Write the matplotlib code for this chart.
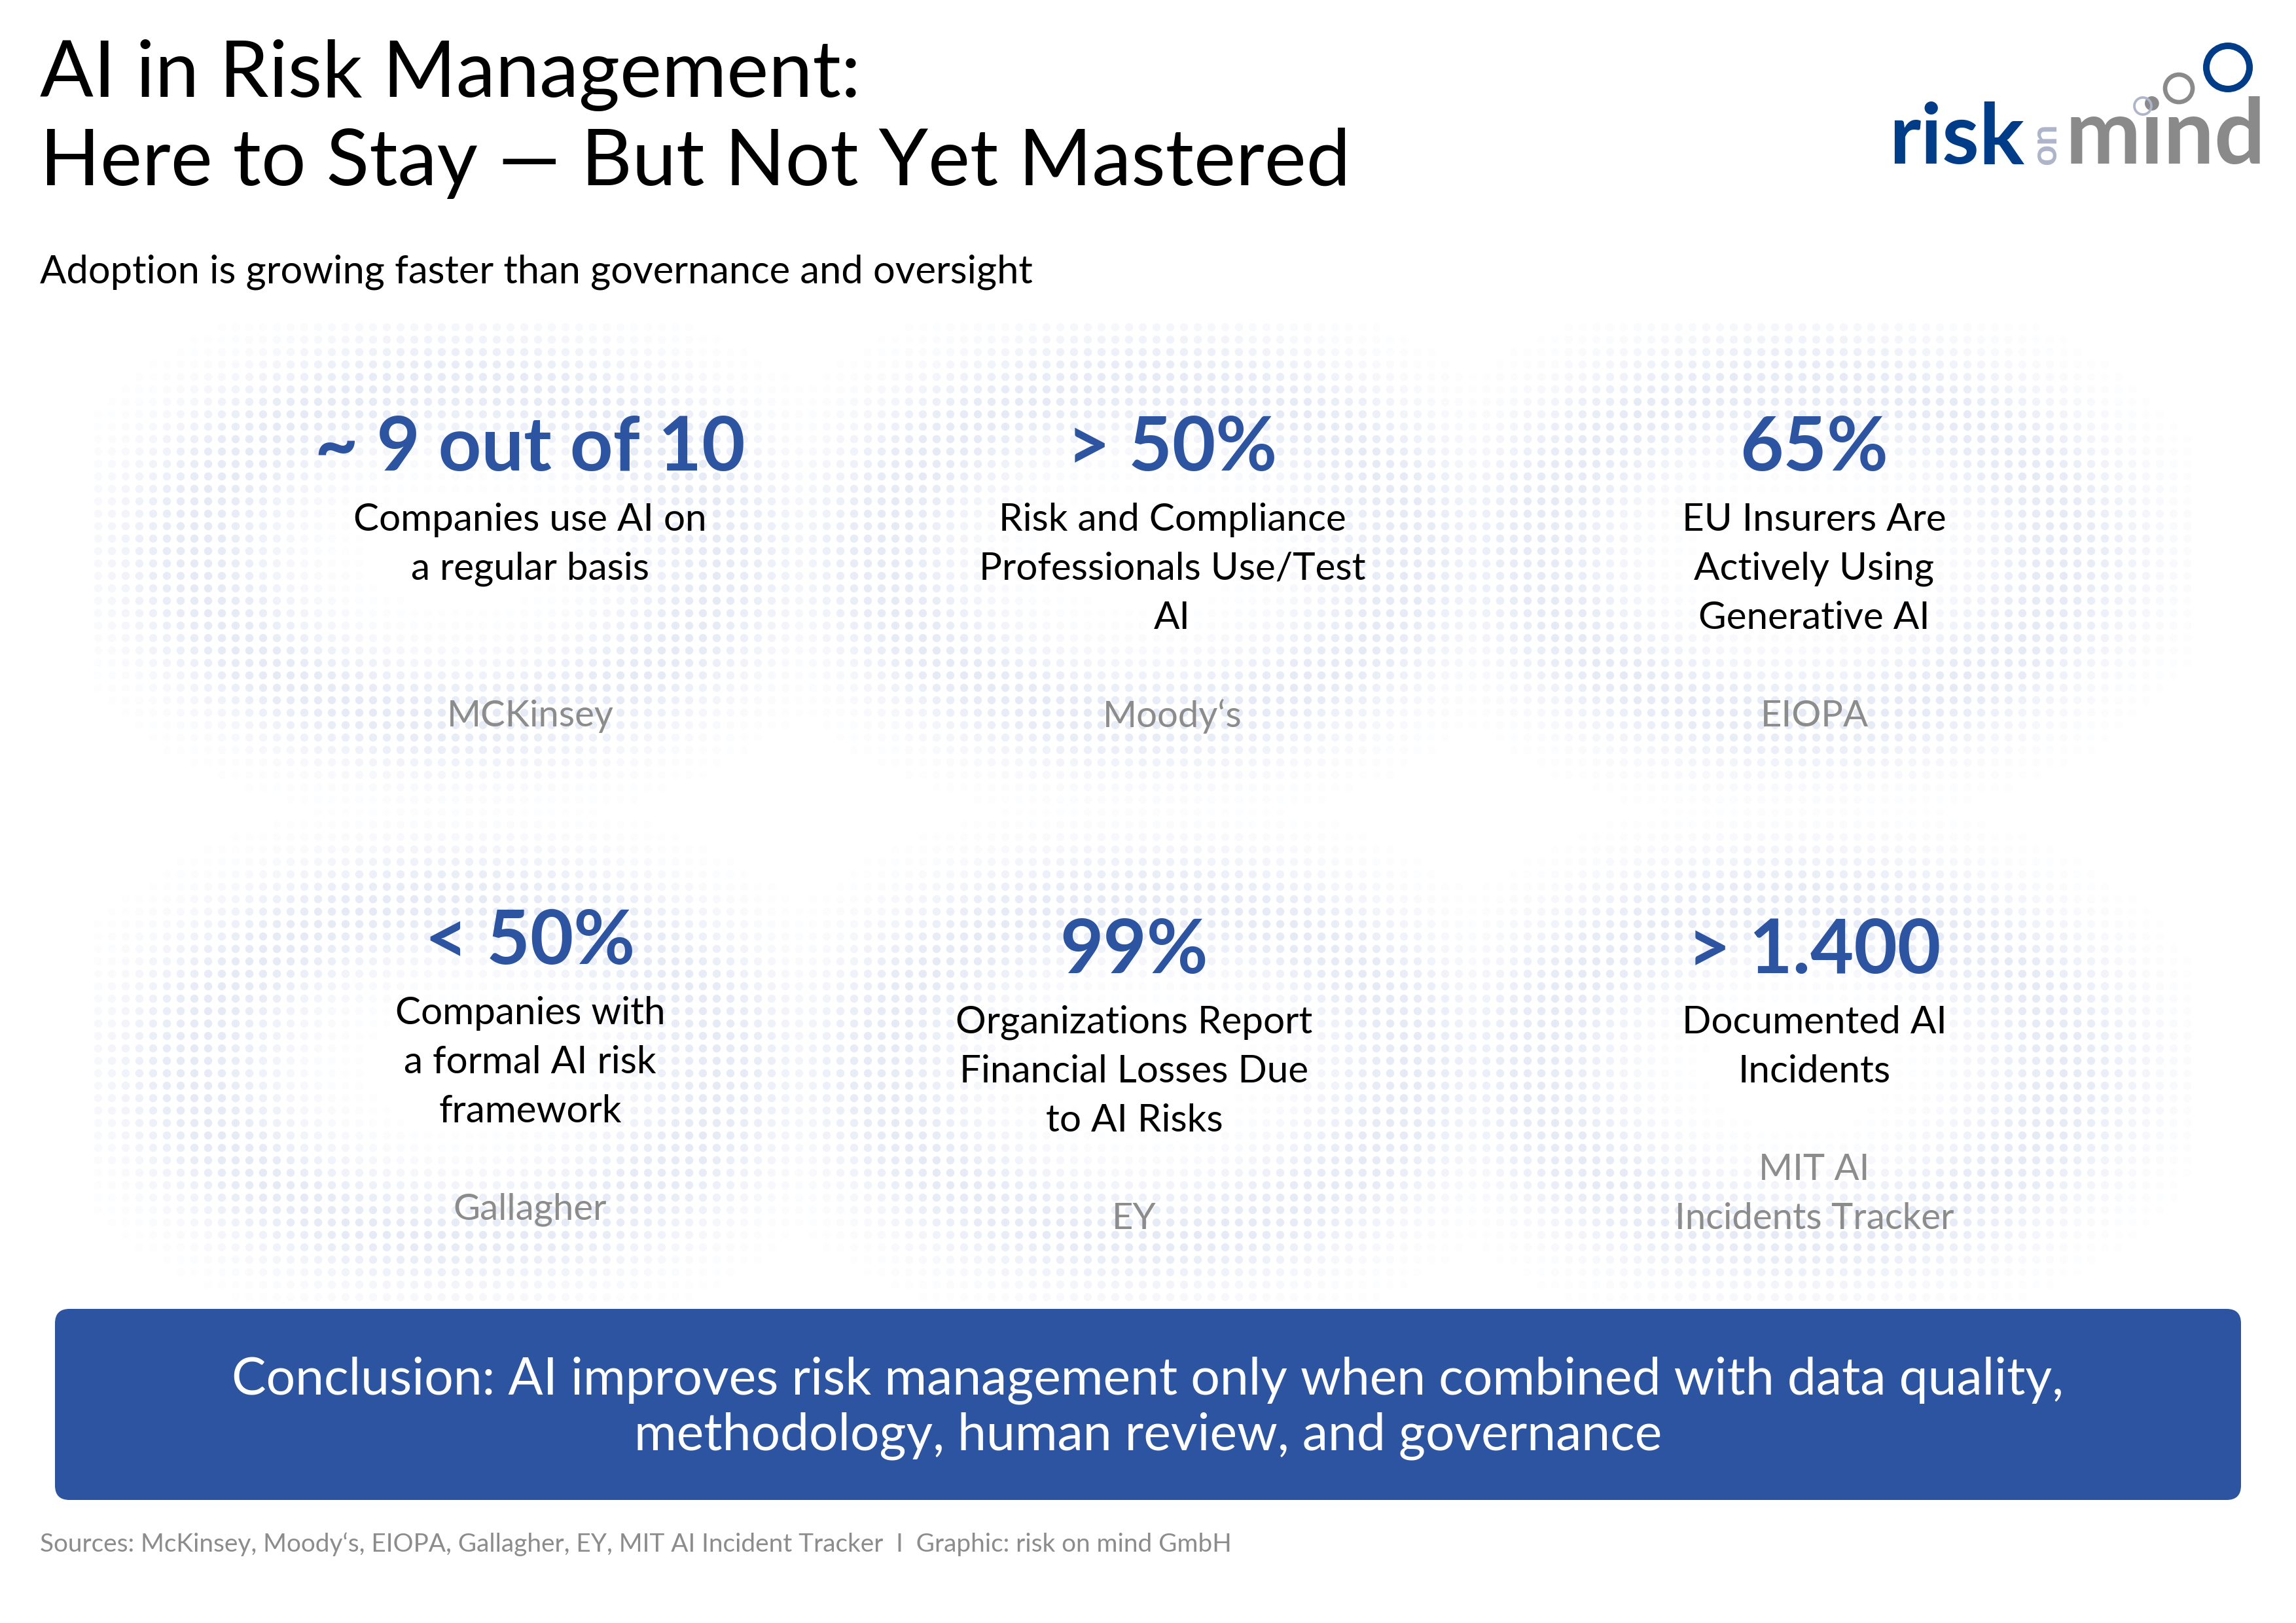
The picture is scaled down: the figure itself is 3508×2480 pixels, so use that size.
import numpy as np
import matplotlib as mpl
mpl.use("Agg")
import matplotlib.pyplot as plt
from matplotlib.patches import FancyBboxPatch, Circle

# =============================================================================
# 0) Content
# =============================================================================
TITLE_1 = "AI in Risk Management:"
TITLE_2 = "Here to Stay \u2014 But Not Yet Mastered"
SUBTITLE = "Adoption is growing faster than governance and oversight"

headline_values = ["~ 9 out of 10", "> 50%", "65%", "< 50%", "99%", "> 1.400"]
descriptions = [
    ["Companies use AI on", "a regular basis"],
    ["Risk and Compliance", "Professionals Use/Test", "AI"],
    ["EU Insurers Are", "Actively Using", "Generative AI"],
    ["Companies with", "a formal AI risk", "framework"],
    ["Organizations Report", "Financial Losses Due", "to AI Risks"],
    ["Documented AI", "Incidents"],
]
sources = [["MCKinsey"], ["Moody\u2018s"], ["EIOPA"], ["Gallagher"], ["EY"],
           ["MIT AI", "Incidents Tracker"]]

CONCLUSION = ["Conclusion: AI improves risk management only when combined with data quality,",
              "methodology, human review, and governance"]
FOOTER = ("Sources: McKinsey, Moody\u2018s, EIOPA, Gallagher, EY, MIT AI Incident Tracker  I  "
          "Graphic: risk on mind GmbH")

# =============================================================================
# 1) Style
# =============================================================================
mpl.rcParams['font.family'] = ['Lato', 'DejaVu Sans']
W, H = 3508, 2480
DPI = 300

BLUE = "#2D54A0"
GREY = "#8C8C8C"
LOGO_BLUE = "#003C87"
LOGO_GREY = "#8A8A8A"
LOGO_LIGHT = "#AEB4C9"
DOT_COLOR = "#8FA3D4"

NUM_FS = 27.5
DESC_FS = 14.0
SRC_FS = 13.5

# cell anchors (pixel layout)
cell_x = [810, 1791, 2772, 810, 1733, 2772]
cell_y = [686, 686, 686, 1440, 1454, 1454]
DESC_OFF = 108
LINE_H = 75
SRC_OFF = 408

fig = plt.figure(figsize=(W / DPI, H / DPI), dpi=DPI)
ax = fig.add_axes([0, 0, 1, 1])
ax.set_xlim(0, W)
ax.set_ylim(H, 0)
ax.axis("off")

# =============================================================================
# 2) Faint halftone ring background
# =============================================================================
gx, gy = np.meshgrid(np.arange(150, 3350, 21), np.arange(500, 2000, 19))
gx = gx.ravel(); gy = gy.ravel()
ring_cx = [700, 1750, 2750, 700, 1750, 2750]
ring_cy = [843, 843, 843, 1633, 1633, 1633]
weight = np.zeros_like(gx, dtype=float)
for cx, cy in zip(ring_cx, ring_cy):
    r = np.sqrt(((gx - cx) / 470.0) ** 2 + ((gy - cy) / 300.0) ** 2)
    weight = np.maximum(weight, np.exp(-((r - 0.85) ** 2) / (2 * 0.22 ** 2)))
rgba = np.tile(np.array(mpl.colors.to_rgba(DOT_COLOR)), (gx.size, 1))
rgba[:, 3] = 0.22 * weight
keep = weight > 0.05
ax.scatter(gx[keep], gy[keep], s=9, c=rgba[keep], linewidths=0, zorder=0)

# =============================================================================
# 3) Title block
# =============================================================================
ax.text(61, 148, TITLE_1, fontsize=29, color="black", va="baseline", ha="left")
ax.text(61, 283, TITLE_2, fontsize=29, color="black", va="baseline", ha="left")
ax.text(61, 416, SUBTITLE, fontsize=14.3, color="black", va="center", ha="left")

# logo
ax.text(2886, 250, "risk", fontsize=31, fontweight="bold", color=LOGO_BLUE,
        va="baseline", ha="left")
ax.text(3141, 252, "on", fontsize=13.5, fontweight="bold", color=LOGO_LIGHT,
        rotation=90, va="baseline", ha="left", rotation_mode="anchor")
ax.text(3156, 250, "mind", fontsize=33, fontweight="bold", color=LOGO_GREY,
        va="baseline", ha="left")
for (cx, cy, rr, lw, col) in [(3404, 103, 33, 2.4, LOGO_BLUE),
                              (3329, 135, 21, 1.6, LOGO_GREY),
                              (3274, 162, 13, 0.9, LOGO_LIGHT)]:
    ax.add_patch(Circle((cx, cy), rr, fill=False, lw=lw, ec=col, zorder=3))

# =============================================================================
# 4) Stat cells
# =============================================================================
for i in range(len(headline_values)):
    x0, y0 = cell_x[i], cell_y[i]
    ax.text(x0, y0, headline_values[i], fontsize=NUM_FS, fontweight="bold",
            color=BLUE, ha="center", va="center", zorder=2)
    for k, line in enumerate(descriptions[i]):
        ax.text(x0, y0 + DESC_OFF + k * LINE_H, line, fontsize=DESC_FS,
                color="black", ha="center", va="center", zorder=2)
    n_src = len(sources[i])
    for k, line in enumerate(sources[i]):
        yy = y0 + SRC_OFF - (n_src - 1 - k) * LINE_H
        ax.text(x0, yy, line, fontsize=SRC_FS, color=GREY, ha="center",
                va="center", zorder=2)

# =============================================================================
# 5) Conclusion box + footer
# =============================================================================
box = FancyBboxPatch((84, 2000), 3424 - 84, 2292 - 2000,
                     boxstyle="round,pad=0,rounding_size=22",
                     fc=BLUE, ec="none", zorder=2)
ax.add_patch(box)
for k, line in enumerate(CONCLUSION):
    ax.text(1754, 2130 + k * 85, line, fontsize=18.9, color="white",
            ha="center", va="baseline", zorder=3)
ax.text(61, 2360, FOOTER, fontsize=9.3, color=GREY, ha="left", va="center")

fig.savefig("out.png", dpi=DPI, facecolor="white")
plt.close(fig)
